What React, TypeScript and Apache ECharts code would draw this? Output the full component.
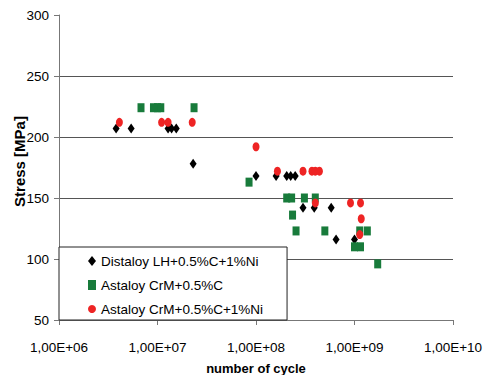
import React, { useEffect, useRef } from "react";
import * as echarts from "echarts";

const distaloyX = [3.8e6, 5.4e6, 1.28e7, 1.39e7, 1.55e7, 2.3e7, 1.0e8, 1.6e8, 2.05e8, 2.25e8, 2.5e8, 3.0e8, 3.9e8, 5.8e8, 6.5e8, 1.0e9];
const distaloyY = [207, 207, 207, 207, 207, 178, 168, 168, 168, 168, 168, 142, 142, 142, 116, 116];

const astaloyCX = [6.8e6, 9.1e6, 1.0e7, 1.08e7, 2.35e7, 8.5e7, 2.05e8, 2.3e8, 3.1e8, 4.0e8, 2.35e8, 2.55e8, 5.0e8, 1.13e9, 1.35e9, 1.0e9, 1.15e9, 1.72e9];
const astaloyCY = [224, 224, 224, 224, 224, 163, 150, 150, 150, 150, 136, 123, 123, 123, 123, 110, 110, 96];

const astaloyNiX = [4.1e6, 1.1e7, 1.28e7, 2.25e7, 1.0e8, 1.65e8, 3.0e8, 3.7e8, 4.0e8, 4.4e8, 4.0e8, 9.1e8, 1.15e9, 1.17e9, 1.13e9];
const astaloyNiY = [212, 212, 212, 212, 192, 172, 172, 172, 172, 172, 146, 146, 146, 133, 120];

const seriesNames = ["Distaloy LH+0.5%C+1%Ni", "Astaloy CrM+0.5%C", "Astaloy CrM+0.5%C+1%Ni"];
const xTitle = "number of cycle";
const yTitle = "Stress [MPa]";

const SANS = "'Liberation Sans', Arial, sans-serif";

const zip = (xs: number[], ys: number[]) => xs.map((x, i) => [x, ys[i]]);

const fmtX = (v: number) => {
  const e = Math.round(Math.log10(v));
  return "1,00E+" + (e < 10 ? "0" + e : String(e));
};

export default function App() {
  const ref = useRef<HTMLDivElement>(null);
  useEffect(() => {
    if (!ref.current) return;
    const chart = echarts.init(ref.current, undefined, { renderer: "svg" });
    chart.setOption({
      animation: false,
      backgroundColor: "#ffffff",
      grid: { left: 59, right: 31, top: 15, bottom: 55, containLabel: false, outerBoundsMode: "none" },
      xAxis: {
        type: "log",
        logBase: 10,
        min: 1e6,
        max: 1e10,
        name: xTitle,
        nameLocation: "middle",
        nameGap: 42,
        nameMoveOverlap: false,
        nameTextStyle: { fontFamily: SANS, fontWeight: "bold", fontSize: 13, color: "#000" },
        axisLine: { lineStyle: { color: "#777", width: 1 } },
        axisTick: { show: true, length: 5, inside: false, lineStyle: { color: "#777" } },
        axisLabel: { formatter: fmtX, fontFamily: SANS, fontSize: 13.5, color: "#000", margin: 20 },
        splitLine: { show: false },
        minorTick: { show: false },
      },
      yAxis: {
        type: "value",
        min: 50,
        max: 300,
        interval: 50,
        name: yTitle,
        nameLocation: "middle",
        nameRotate: 90,
        nameGap: 32,
        nameMoveOverlap: false,
        nameTextStyle: { fontFamily: SANS, fontWeight: "bold", fontSize: 15, color: "#000", padding: [0, 0, 0, 12] },
        axisLine: { show: true, lineStyle: { color: "#777", width: 1 } },
        axisTick: { show: true, length: 5, lineStyle: { color: "#777" } },
        axisLabel: { fontFamily: SANS, fontSize: 13.5, color: "#000", margin: 10 },
        splitLine: { show: true, showMinLine: false, showMaxLine: false, lineStyle: { color: "#555", width: 1 } },
      },
      legend: {
        orient: "vertical",
        left: 59,
        top: 247,
        padding: [6, 24, 3, 29],
        backgroundColor: "#fff",
        borderColor: "#222",
        borderWidth: 1,
        itemWidth: 8,
        itemHeight: 10,
        itemGap: 8,
        textStyle: { fontFamily: SANS, fontSize: 13.5, color: "#000", lineHeight: 16 },
        data: seriesNames,
      },
      series: [
        {
          name: seriesNames[0],
          type: "scatter",
          symbol: "diamond",
          symbolSize: [7, 10],
          itemStyle: { color: "#000", opacity: 1 },
          data: zip(distaloyX, distaloyY),
        },
        {
          name: seriesNames[1],
          type: "scatter",
          symbol: "rect",
          symbolSize: [7, 9],
          itemStyle: { color: "#187b3b", opacity: 1 },
          data: zip(astaloyCX, astaloyCY),
        },
        {
          name: seriesNames[2],
          type: "scatter",
          symbol: "circle",
          symbolSize: [7, 9],
          itemStyle: { color: "#ee2424", opacity: 1 },
          data: zip(astaloyNiX, astaloyNiY),
        },
      ],
    });
    return () => chart.dispose();
  }, []);
  return <div ref={ref} style={{ position: "absolute", left: 0, top: 0, width: 484, height: 375 }} />;
}
